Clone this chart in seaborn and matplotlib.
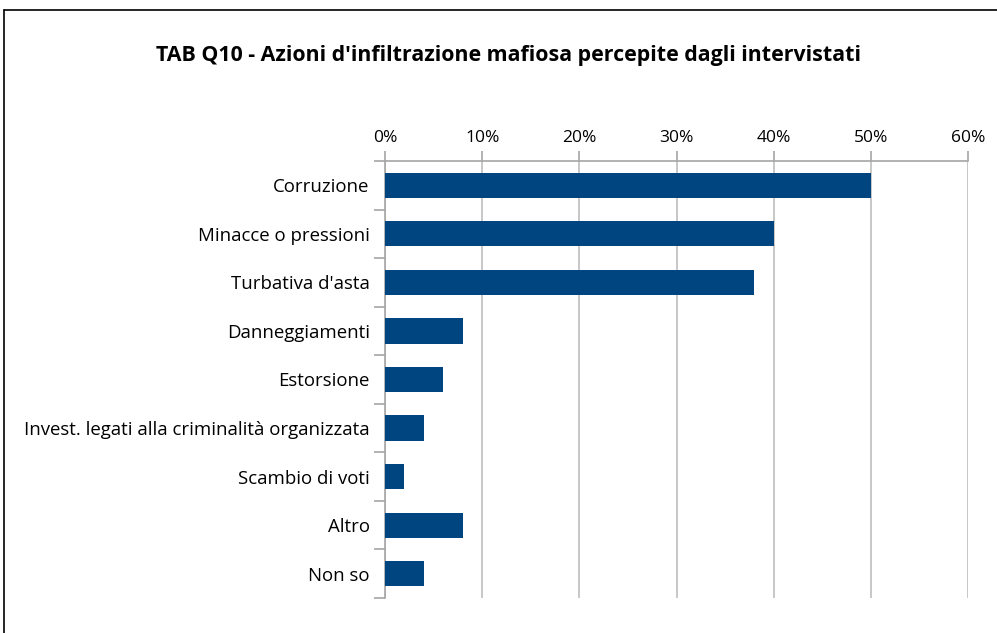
import matplotlib
matplotlib.use("Agg")
import matplotlib.pyplot as plt
import seaborn as sns
import pandas as pd
import numpy as np
from matplotlib.lines import Line2D
from matplotlib.ticker import FixedLocator, PercentFormatter

categories = ["Corruzione", "Minacce o pressioni", "Turbativa d'asta", "Danneggiamenti",
              "Estorsione", "Invest. legati alla criminalità organizzata", "Scambio di voti",
              "Altro", "Non so"]
values = [50, 40, 38, 8, 6, 4, 2, 8, 4]
xticks = [0, 10, 20, 30, 40, 50, 60]
title = "TAB Q10 - Azioni d'infiltrazione mafiosa percepite dagli intervistati"

sns.set_theme(style="white")
plt.rcParams['font.family'] = ['Open Sans', 'DejaVu Sans']

df = pd.DataFrame({"cat": categories, "val": values})

fig = plt.figure(figsize=(9.97, 6.33), dpi=100)
ax = fig.add_axes([385/997, 1-598/633, (968-385)/997, (598-161)/633])
sns.barplot(data=df, y="cat", x="val", orient="h", color="#00457F", saturation=1,
            width=0.52, ax=ax, zorder=3, linewidth=0)

ax.set_xlim(0, 60)
ax.set_ylim(len(categories)-0.5, -0.5)
ax.xaxis.tick_top()
ax.set_xticks(xticks)
ax.xaxis.set_major_formatter(PercentFormatter(decimals=0))
ax.grid(axis="x", color="#BEBEBE", linewidth=1.2, zorder=0)
ax.set_axisbelow(True)
ax.set_xlabel("")
ax.set_ylabel("")

for s in ["right", "bottom"]:
    ax.spines[s].set_visible(False)
for s in ["left", "top"]:
    ax.spines[s].set_color("#A6A6A6")
    ax.spines[s].set_linewidth(1.2)

ax.tick_params(axis="x", which="major", top=True, length=7, color="#A6A6A6",
               width=1.2, labelsize=12.5, labelcolor="black", pad=4)
ax.tick_params(axis="y", which="major", length=0, labelsize=13.4, labelcolor="black", pad=11)
ax.yaxis.set_minor_locator(FixedLocator(np.arange(-0.5, len(categories), 1.0)))
ax.tick_params(axis="y", which="minor", left=True, length=8, color="#A6A6A6", width=1.2)

fig.text(508/997, 1-55/633, title, ha="center", va="center", fontsize=15.4,
         fontweight="bold", color="black")

fig.add_artist(Line2D([4/997, 4/997], [0, 1-10/633], transform=fig.transFigure,
                      color="black", linewidth=1.2))
fig.add_artist(Line2D([4/997, 1], [1-10/633, 1-10/633], transform=fig.transFigure,
                      color="black", linewidth=1.2))

fig.savefig("out.png", dpi=100)
